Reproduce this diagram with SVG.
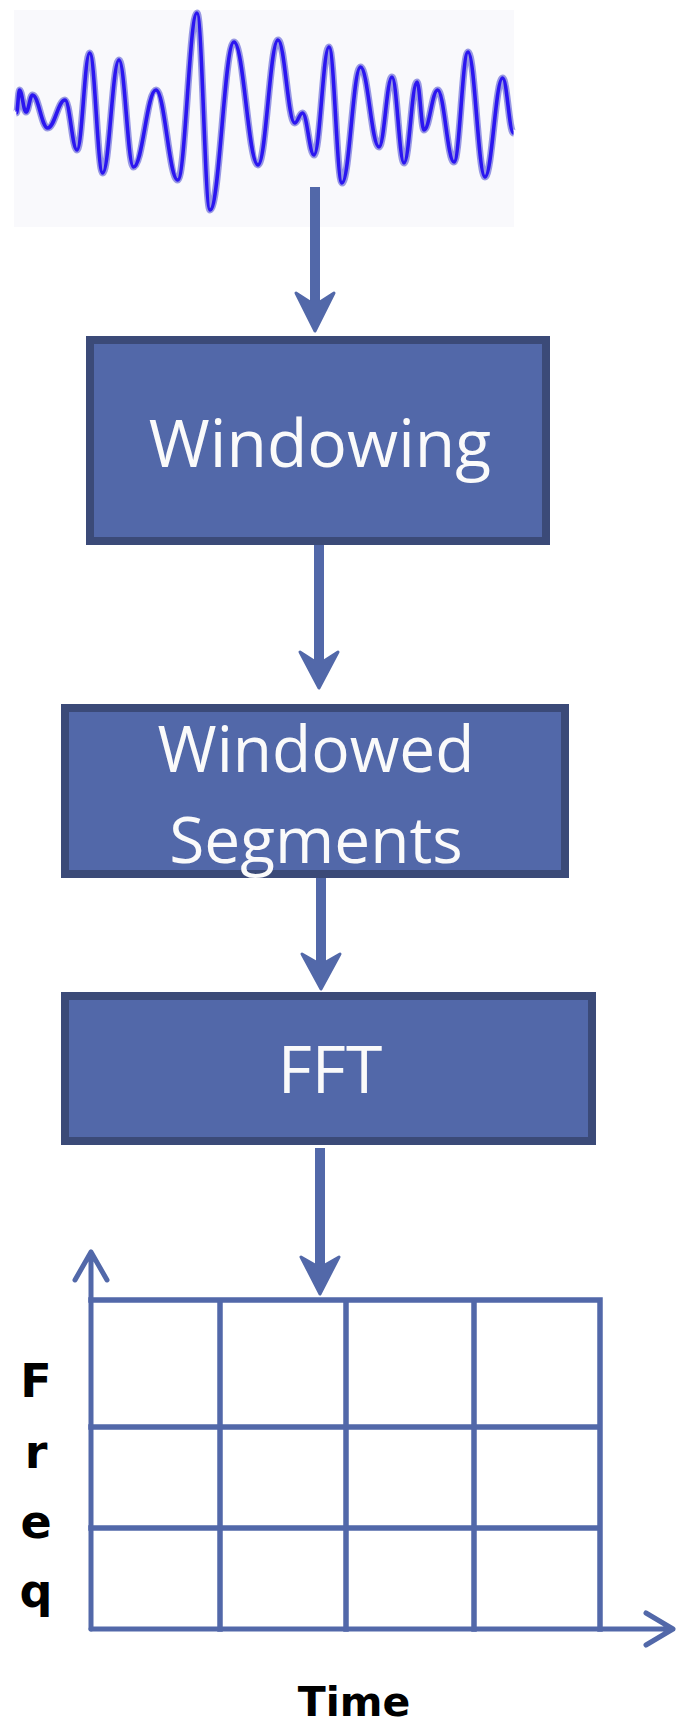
<svg xmlns="http://www.w3.org/2000/svg" width="676" height="1726" viewBox="0 0 676 1726">
<defs>
<style>
.box{fill:#5268a9;stroke:#3b4a78;stroke-width:8}
.lbl{font-family:"Open Sans","Liberation Sans",sans-serif;fill:#fafafa;text-anchor:middle}
.shaft{stroke:#5268a9;stroke-width:10;fill:none}
.head{fill:#5268a9;stroke:#5268a9;stroke-width:3;stroke-linejoin:round}
.grid{stroke:#5268a9;stroke-width:5.5;fill:none;stroke-linecap:square}
.axis{stroke:#5268a9;stroke-width:5;fill:none;stroke-linecap:round;stroke-linejoin:round}
.ax{font-family:"DejaVu Sans","Liberation Sans",sans-serif;font-weight:bold;fill:#000;text-anchor:middle}
</style>
<path id="wave" d="M16.5,113 C17.7,113 18.3,90 19.5,90 C22.1,90 23.4,112 26,112 C28.6,112 29.9,95 32.5,95 C38.6,95 41.6,128 47.7,128 C54.6,128 58.1,100 65,100 C69.8,100 72.2,150 77,150 C82.1,150 84.6,53 89.7,53 C94.9,53 97.5,173 102.7,173 C109.2,173 112.5,60 119,60 C124.8,60 127.7,167 133.5,167 C142.5,167 147,90 156,90 C164.7,90 169,180 177.7,180 C185.4,180 189.3,13 197,13 C202.2,13 204.8,210 210,210 C219.6,210 224.4,42 234,42 C243.6,42 248.4,165 258,165 C266,165 270,40 278,40 C284.7,40 288,123 294.7,123 C297.8,123 299.4,113 302.5,113 C307.1,113 309.4,155 314,155 C320,155 323,47 329,47 C334.2,47 336.8,183 342,183 C349.4,183 353.1,67 360.5,67 C367.9,67 371.6,147 379,147 C384.2,147 386.8,77 392,77 C396.8,77 399.2,163 404,163 C409.2,163 411.8,82 417,82 C419.8,82 421.2,130 424,130 C429.4,130 432.2,90 437.6,90 C444.2,90 447.4,162 454,162 C459.6,162 462.4,52 468,52 C474.8,52 478.2,177 485,177 C492,177 495.6,78 502.6,78 C507,78 509.1,133 513.5,133" fill="none" stroke-linejoin="round"/>
</defs>
<rect width="676" height="1726" fill="#ffffff"/>
<g id="signal">
<rect x="14" y="10" width="500" height="217" fill="#f9f9fc"/>
<use href="#wave" stroke="#7f7fdc" stroke-width="7" opacity="0.8"/>
<use href="#wave" stroke="#2b16f0" stroke-width="3.6"/>
</g>
<g id="windowing">
<rect class="box" x="90" y="340" width="456" height="201"/>
<text class="lbl" x="320" y="467" font-size="66">Windowing</text>
</g>
<g id="windowed-segments">
<rect class="box" x="65" y="708" width="500" height="166"/>
<text class="lbl" x="316" y="772" font-size="64">Windowed</text>
<text class="lbl" x="316" y="863" font-size="64">Segments</text>
</g>
<g id="fft">
<rect class="box" x="65" y="996" width="527" height="145"/>
<text class="lbl" x="330" y="1093" font-size="66">FFT</text>
</g>
<g id="spectrogram">
<path class="grid" d="M91,1300 H600 V1629 M91,1427 H600 M91,1528 H600 M220,1300 V1629 M346,1300 V1629 M474,1300 V1629"/>
<path class="axis" d="M91,1629 V1252 M75,1280 L91,1252 L107,1280"/>
<path class="axis" d="M91,1629 H673 M646,1613 L673,1629 L646,1645"/>
<text class="ax" x="36" y="1397" font-size="46">F</text>
<text class="ax" x="36" y="1468" font-size="46">r</text>
<text class="ax" x="36" y="1538" font-size="46">e</text>
<text class="ax" x="36" y="1607" font-size="46">q</text>
<text class="ax" x="354" y="1716" font-size="41">Time</text>
</g>
<g id="connectors">
<line class="shaft" x1="315" y1="187" x2="315" y2="305"/>
<path class="head" d="M296,293 L310,302 L320,302 L334,293 L315,331 Z"/>
<line class="shaft" x1="319" y1="545" x2="319" y2="662"/>
<path class="head" d="M300,652 L314,661 L324,661 L338,652 L319,688 Z"/>
<line class="shaft" x1="321" y1="878" x2="321" y2="963"/>
<path class="head" d="M302,954 L316,962 L326,962 L340,954 L321,989 Z"/>
<line class="shaft" x1="320" y1="1148" x2="320" y2="1266"/>
<path class="head" d="M301,1257 L315,1265 L325,1265 L339,1257 L320,1294 Z"/>
</g>
</svg>
